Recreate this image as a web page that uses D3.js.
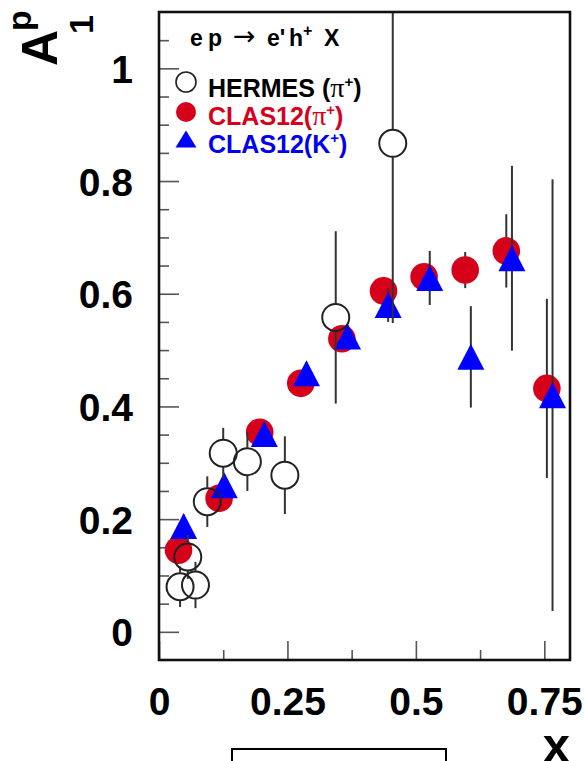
<!DOCTYPE html>
<html>
<head>
<meta charset="utf-8">
<script src="https://cdn.jsdelivr.net/npm/d3@7"></script>
<style>
  body { margin: 0; background: #fff; }
  svg { display: block; }
  text { font-family: "Liberation Sans", Arial, Helvetica, sans-serif; font-weight: bold; }
</style>
</head>
<body>
<svg id="chart" width="585" height="761"></svg>
<script>
// A1^p versus x for semi-inclusive e p -> e' h+ X
const hermesX   = [0.041, 0.056, 0.071, 0.094, 0.125, 0.172, 0.245, 0.344, 0.455];
const hermesY   = [0.080, 0.133, 0.083, 0.231, 0.317, 0.302, 0.278, 0.558, 0.867];
const hermesErr = [0.036, 0.039, 0.041, 0.045, 0.045, 0.052, 0.069, 0.153, 0.319];

const clasPiX   = [0.038, 0.117, 0.196, 0.276, 0.356, 0.437, 0.516, 0.596, 0.676, 0.755];
const clasPiY   = [0.145, 0.237, 0.354, 0.441, 0.520, 0.605, 0.630, 0.642, 0.676, 0.432];
const clasPiErr = [0.020, 0.020, 0.020, 0.020, 0.020, 0.020, 0.020, 0.032, 0.065, 0.159];

const clasKX    = [0.048, 0.127, 0.205, 0.287, 0.367, 0.446, 0.527, 0.607, 0.687, 0.766];
const clasKY    = [0.188, 0.260, 0.351, 0.459, 0.524, 0.580, 0.628, 0.488, 0.663, 0.420];
const clasKErr  = [0.020, 0.020, 0.020, 0.020, 0.020, 0.030, 0.048, 0.090, 0.164, 0.383];

const xTickLabels = [0, 0.25, 0.5, 0.75];
const xMinorTicks = [0.125, 0.375, 0.625];
const yTickLabels = [0, 0.2, 0.4, 0.6, 0.8, 1];
const yMinorTicks = [0.05, 0.1, 0.15, 0.25, 0.3, 0.35, 0.45, 0.5, 0.55, 0.65, 0.7, 0.75, 0.85, 0.9, 0.95, 1.05];

const RED = "#d7001b", BLUE = "#0000ff";

const svg = d3.select("#chart");
const frame = { left: 159, right: 570, top: 12, bottom: 660 };
const x = d3.scaleLinear().domain([0, 0.8]).range([frame.left, frame.right]);
const y = d3.scaleLinear().domain([-0.05, 1.1]).range([frame.bottom, frame.top]);

svg.append("defs").append("clipPath").attr("id", "plotClip")
  .append("rect").attr("x", frame.left).attr("y", frame.top)
  .attr("width", frame.right - frame.left).attr("height", frame.bottom - frame.top);

// ---- axes (ticks point into the frame) ----
function styleAxis(g) {
  g.select(".domain").remove();
  g.selectAll(".tick line").attr("stroke", "#555").attr("stroke-width", 1.6);
  g.selectAll(".tick text").attr("fill", "#000").style("font-size", "39px")
    .style("font-family", '"Liberation Sans", Arial, sans-serif').style("font-weight", "bold");
}
svg.append("g").attr("transform", `translate(${frame.left},0)`)
  .call(d3.axisLeft(y).tickValues(yTickLabels).tickSizeInner(-20).tickSizeOuter(0)
    .tickPadding(26).tickFormat(d3.format("~g")))
  .call(styleAxis)
  .selectAll(".tick text").attr("dy", "0.36em");
svg.append("g").attr("transform", `translate(${frame.left},0)`)
  .call(d3.axisLeft(y).tickValues(yMinorTicks).tickSizeInner(-10).tickSizeOuter(0).tickFormat(""))
  .call(styleAxis);

svg.append("g").attr("transform", `translate(0,${frame.bottom})`)
  .call(d3.axisBottom(x).tickValues(xTickLabels).tickSizeInner(-19).tickSizeOuter(0)
    .tickPadding(27).tickFormat(d3.format("~g")))
  .call(styleAxis);
svg.append("g").attr("transform", `translate(0,${frame.bottom})`)
  .call(d3.axisBottom(x).tickValues(xMinorTicks).tickSizeInner(-10).tickSizeOuter(0).tickFormat(""))
  .call(styleAxis);

// ---- data ----
const plot = svg.append("g").attr("clip-path", "url(#plotClip)");

function triPath(cx, cy, w, h) {
  const p = d3.path();
  p.moveTo(cx, cy - h / 2);
  p.lineTo(cx + w / 2, cy + h / 2);
  p.lineTo(cx - w / 2, cy + h / 2);
  p.closePath();
  return p.toString();
}

function errorBars(g, xs, ys, errs, gap, color) {
  xs.forEach((xv, i) => {
    const cx = x(xv), cy = y(ys[i]);
    const top = y(ys[i] + errs[i]), bot = y(ys[i] - errs[i]);
    if (top < cy - gap) g.append("line").attr("x1", cx).attr("x2", cx)
      .attr("y1", top).attr("y2", cy - gap).attr("stroke", color).attr("stroke-width", 2);
    if (bot > cy + gap) g.append("line").attr("x1", cx).attr("x2", cx)
      .attr("y1", cy + gap).attr("y2", bot).attr("stroke", color).attr("stroke-width", 2);
  });
}

// CLAS12 pi+
const gPi = plot.append("g");
errorBars(gPi, clasPiX, clasPiY, clasPiErr, 0, "#333");
gPi.selectAll("circle").data(clasPiX).join("circle")
  .attr("cx", d => x(d)).attr("cy", (d, i) => y(clasPiY[i])).attr("r", 13.8)
  .attr("fill", RED);

// CLAS12 K+
const gK = plot.append("g");
errorBars(gK, clasKX, clasKY, clasKErr, 0, "#333");
gK.selectAll("path").data(clasKX).join("path")
  .attr("d", (d, i) => triPath(x(d), y(clasKY[i]), 27, 26))
  .attr("fill", BLUE);

// HERMES pi+
const gH = plot.append("g");
errorBars(gH, hermesX, hermesY, hermesErr, 14, "#333");
gH.selectAll("circle").data(hermesX).join("circle")
  .attr("cx", d => x(d)).attr("cy", (d, i) => y(hermesY[i])).attr("r", 13.5)
  .attr("fill", "none").attr("stroke", "#222").attr("stroke-width", 2);

// ---- frame ----
svg.append("rect").attr("x", frame.left).attr("y", frame.top)
  .attr("width", frame.right - frame.left).attr("height", frame.bottom - frame.top)
  .attr("fill", "none").attr("stroke", "#111").attr("stroke-width", 2.6);

// ---- legend ----
const header = svg.append("text").attr("y", 46).style("font-size", "23px").attr("fill", "#000");
header.append("tspan").attr("x", 190).text("e");
header.append("tspan").attr("x", 208).text("p");
header.append("tspan").attr("x", 233).attr("dy", -1).style("font-family", '"DejaVu Sans", sans-serif')
  .style("font-weight", "normal").style("font-size", "27px").text("\u2192");
header.append("tspan").attr("x", 267).attr("dy", 1).text("e'");
header.append("tspan").attr("x", 289).text("h");
header.append("tspan").attr("x", 303).attr("dy", -10).style("font-size", "16px").text("+");
header.append("tspan").attr("x", 324).attr("dy", 10).text("X");

const legendX = 186, textX = 208;
svg.append("circle").attr("cx", legendX).attr("cy", 82).attr("r", 10)
  .attr("fill", "none").attr("stroke", "#222").attr("stroke-width", 1.6);
svg.append("circle").attr("cx", legendX).attr("cy", 112).attr("r", 10).attr("fill", RED);
svg.append("path").attr("d", triPath(legendX, 139, 21, 17)).attr("fill", BLUE);

function legendEntry(yBase, label, particle, serif, color) {
  const t = svg.append("text").attr("x", textX).attr("y", yBase)
    .style("font-size", "25px").attr("fill", color);
  t.append("tspan").text(label + "(");
  const p = t.append("tspan").text(particle);
  if (serif) p.style("font-family", '"Liberation Serif", "Times New Roman", serif')
    .style("font-weight", "normal").style("font-size", "28px");
  t.append("tspan").attr("dy", -10).style("font-size", "15px").text("+");
  t.append("tspan").attr("dy", 10).text(")");
}
legendEntry(97, "HERMES ", "\u03c0", true, "#000");
legendEntry(125, "CLAS12", "\u03c0", true, RED);
legendEntry(153, "CLAS12", "K", false, "#0000ee");

// ---- axis titles ----
const yTitle = svg.append("g").attr("transform", "translate(57,66) rotate(-90)");
yTitle.append("text").attr("x", 0).attr("y", 0).style("font-size", "50px").text("A");
yTitle.append("text").attr("x", 35).attr("y", -26).style("font-size", "34px").text("p");
yTitle.append("text").attr("x", 32).attr("y", 36).style("font-size", "34px").text("1");

svg.append("text").attr("x", 570).attr("y", 762).attr("text-anchor", "end")
  .style("font-size", "49px").text("x");

// empty box below the axis
svg.append("rect").attr("x", 232).attr("y", 749).attr("width", 214).attr("height", 30)
  .attr("fill", "none").attr("stroke", "#000").attr("stroke-width", 2);
</script>
</body>
</html>
